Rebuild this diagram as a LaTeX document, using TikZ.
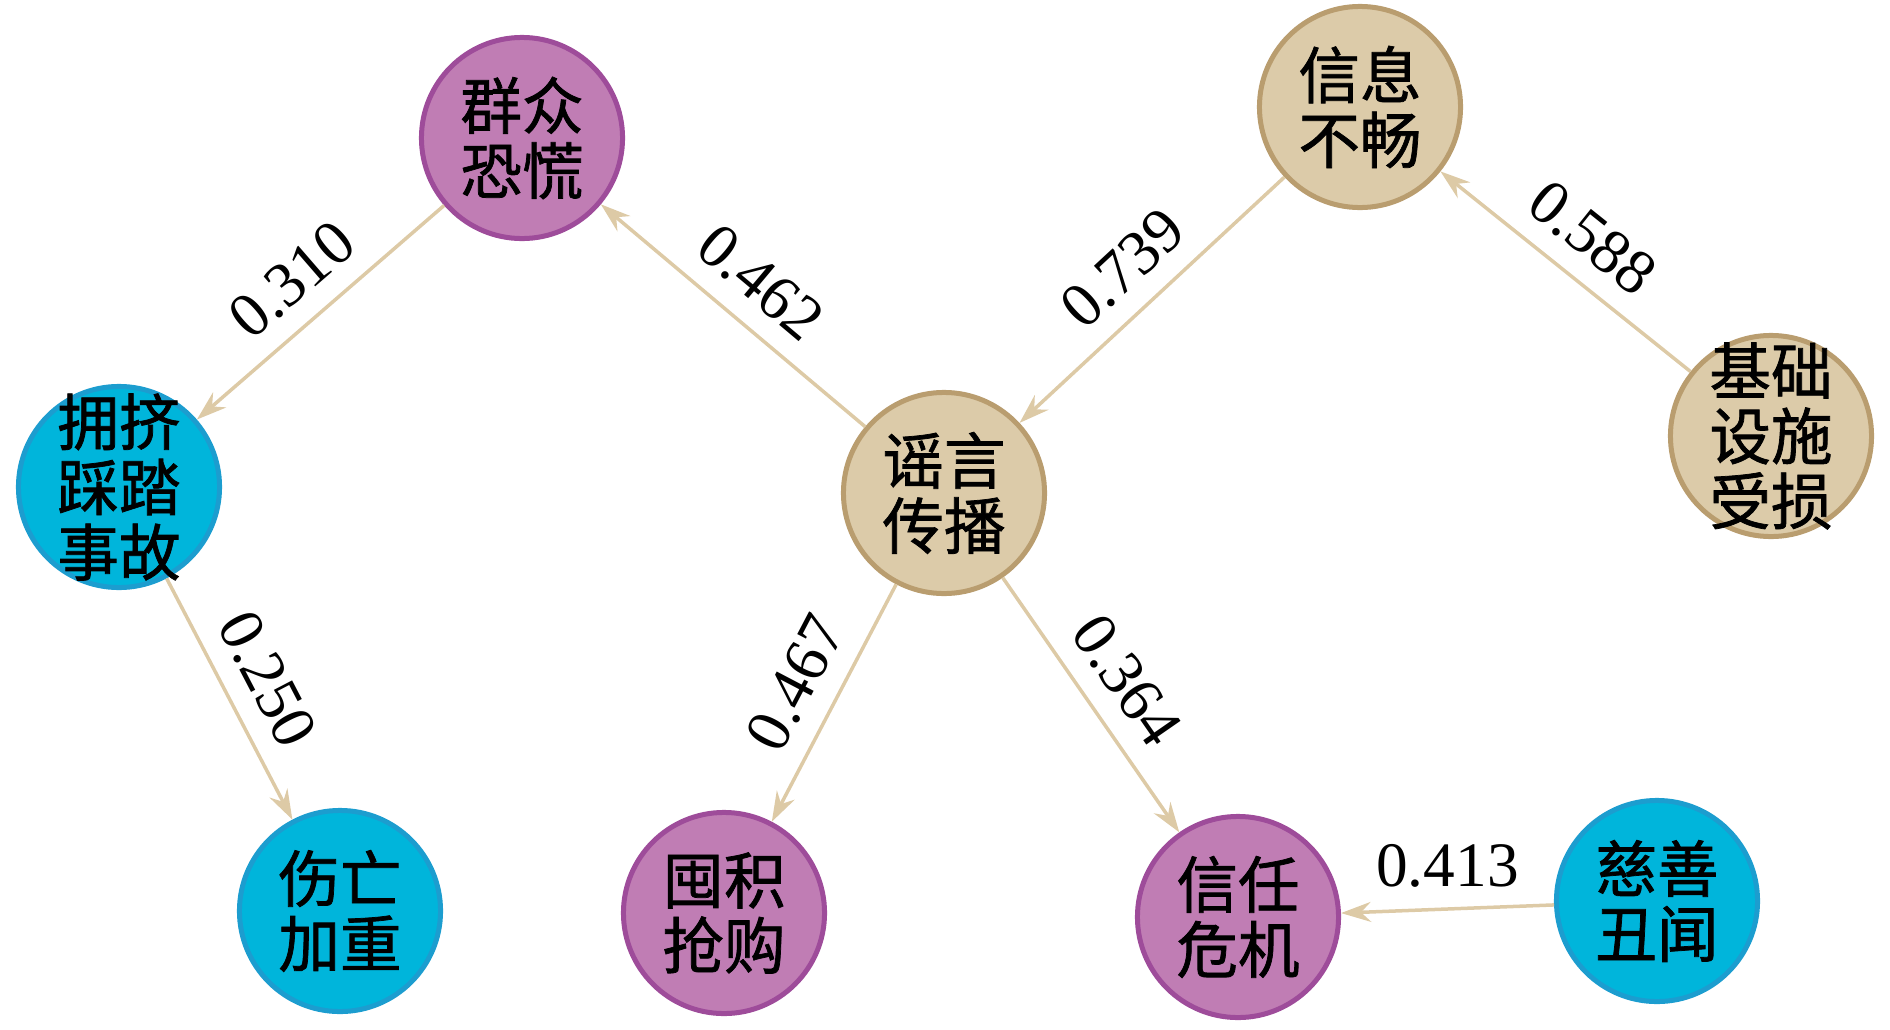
\documentclass[tikz,border=0pt]{standalone}
\usepackage{fontspec}
\setmainfont{Liberation Serif}
\newfontfamily\cjkfont[FakeBold=1.2]{Noto Sans CJK SC}
\usepackage{tikz}
\usetikzlibrary{
  arrows.meta
}
\definecolor{panicfill}{HTML}{C07DB4}
\definecolor{panicdraw}{HTML}{9E4C9A}
\definecolor{rumorfill}{HTML}{DCCBA9}
\definecolor{rumordraw}{HTML}{B99D6F}
\definecolor{harmfill}{HTML}{00B5DB}
\definecolor{harmdraw}{HTML}{1C9DCF}
\definecolor{linkcolor}{HTML}{DDCAA6}

\begin{document}
\begin{tikzpicture}[
  x=0.01cm,
  y=-0.01cm,
  factor/.style={circle,line width=0.05cm,minimum size=2.01cm,inner sep=0pt},
  caption/.style={align=center,inner sep=0pt,font=\cjkfont\fontsize{17.5}{18.5}\selectfont},
  panic/.style={factor,draw=panicdraw,fill=panicfill},
  rumor/.style={factor,draw=rumordraw,fill=rumorfill},
  harm/.style={factor,draw=harmdraw,fill=harmfill},
  link/.style={draw=linkcolor,line width=0.035cm,
    -{Stealth[length=0.3cm,width=0.2cm,inset=0.1cm]}},
  weight/.style={font=\fontsize{18}{18}\selectfont,inner sep=0.2cm},
]
\useasboundingbox (0,0) rectangle (1890,1030);
\node[panic,label={[caption]center:群众\\恐慌}] (crowd) at (522,138) {};
\node[rumor,label={[caption]center:信息\\不畅}] (info) at (1360,107) {};
\node[harm,label={[caption]center:拥挤\\踩踏\\事故}] (stampede) at (119,487) {};
\node[rumor,label={[caption]center:谣言\\传播}] (rumor) at (944,493) {};
\node[rumor,label={[caption]center:基础\\设施\\受损}] (infra) at (1771,436) {};
\node[harm,label={[caption]center:伤亡\\加重}] (casualty) at (340,911) {};
\node[panic,label={[caption]center:囤积\\抢购}] (hoard) at (724,913) {};
\node[panic,label={[caption]center:信任\\危机}] (trust) at (1238,917) {};
\node[harm,label={[caption]center:慈善\\丑闻}] (charity) at (1657,901) {};

\draw[link] (rumor) -- node[weight,above,sloped] {0.462} (crowd);
\draw[link] (crowd) -- node[weight,above,sloped] {0.310} (stampede);
\draw[link] (stampede) -- node[weight,above,sloped] {0.250} (casualty);
\draw[link] (info) -- node[weight,above,sloped] {0.739} (rumor);
\draw[link] (infra) -- node[weight,above,sloped] {0.588} (info);
\draw[link] (rumor) -- node[weight,above,sloped] {0.467} (hoard);
\draw[link] (rumor) -- node[weight,above,sloped] {0.364} (trust);
\draw[link] (charity) -- node[weight,above] {0.413} (trust);
\end{tikzpicture}
\end{document}
